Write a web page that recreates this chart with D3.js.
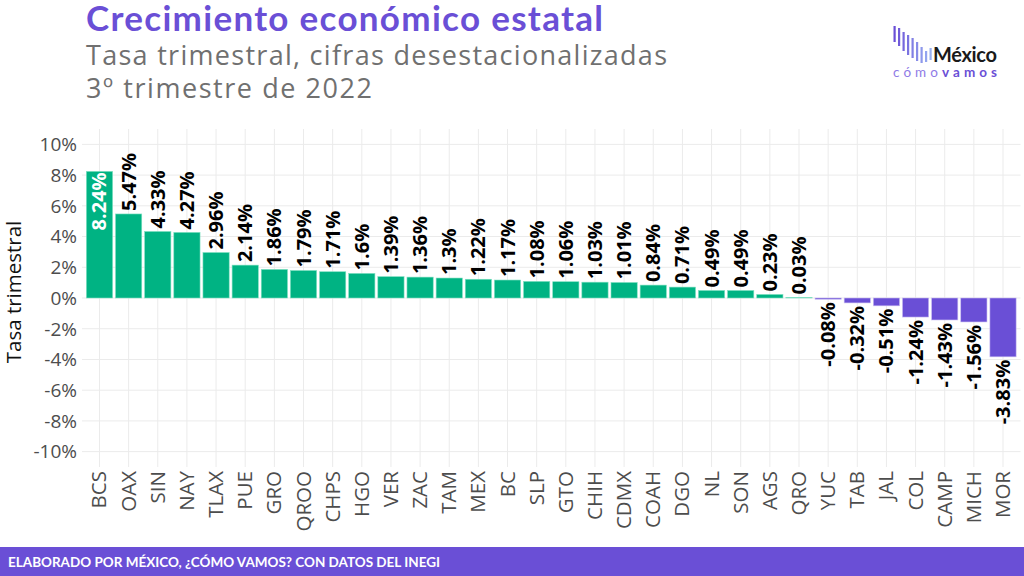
<!DOCTYPE html>
<html><head><meta charset="utf-8">
<script src="https://cdn.jsdelivr.net/npm/d3@7"></script>
<style>body{margin:0;background:#fff}svg{display:block}</style>
</head><body><svg id="c" width="1024" height="576"></svg>
<script>
const states = ["BCS","OAX","SIN","NAY","TLAX","PUE","GRO","QROO","CHPS","HGO","VER","ZAC","TAM","MEX","BC","SLP","GTO","CHIH","CDMX","COAH","DGO","NL","SON","AGS","QRO","YUC","TAB","JAL","COL","CAMP","MICH","MOR"];
const growth = [8.24,5.47,4.33,4.27,2.96,2.14,1.86,1.79,1.71,1.6,1.39,1.36,1.3,1.22,1.17,1.08,1.06,1.03,1.01,0.84,0.71,0.49,0.49,0.23,0.03,-0.08,-0.32,-0.51,-1.24,-1.43,-1.56,-3.83];
const labels = ["8.24%","5.47%","4.33%","4.27%","2.96%","2.14%","1.86%","1.79%","1.71%","1.6%","1.39%","1.36%","1.3%","1.22%","1.17%","1.08%","1.06%","1.03%","1.01%","0.84%","0.71%","0.49%","0.49%","0.23%","0.03%","-0.08%","-0.32%","-0.51%","-1.24%","-1.43%","-1.56%","-3.83%"];
const yTicks = [10,8,6,4,2,0,-2,-4,-6,-8,-10];

const svg = d3.select("#c");
const purple = "#6A4FD6", green = "#00B383";
const L = 82, R = 1020.5, T = 129, B = 467;

const n = states.length;
const step = (R - L) / (n + 0.2);
const xc = d => L + 0.6*step + states.indexOf(d)*step;
const y = d3.scaleLinear().domain([-11, 11]).range([B, T]);

// grid
const g = svg.append("g");
g.selectAll(".hg").data(yTicks).join("line")
  .attr("x1", L).attr("x2", R).attr("y1", d=>y(d)).attr("y2", d=>y(d))
  .attr("stroke", "#ebebeb").attr("stroke-width", 1);
g.selectAll(".vg").data(states).join("line")
  .attr("x1", d=>xc(d)).attr("x2", d=>xc(d)).attr("y1", T).attr("y2", B)
  .attr("stroke", "#ebebeb").attr("stroke-width", 1);

// y axis labels
svg.append("g").selectAll("text").data(yTicks).join("text")
  .attr("x", 77).attr("y", d=>y(d)).attr("dy", "0.36em")
  .attr("text-anchor", "end").attr("font-family", "Open Sans").attr("font-size", 19)
  .attr("fill", "#4d4d4d").text(d => d + "%");
svg.append("text").attr("transform", `translate(21,${y(0)-6}) rotate(-90)`)
  .attr("text-anchor", "middle").attr("font-family", "Open Sans").attr("font-size", 20.5)
  .attr("fill", "#111").text("Tasa trimestral");

// bars
const bw = step*0.9;
const data = states.map((s,i)=>({s, v: growth[i], lab: labels[i]}));
svg.append("g").selectAll("rect").data(data).join("rect")
  .attr("x", d=>xc(d.s)-bw/2).attr("width", bw)
  .attr("y", d=>y(Math.max(0,d.v))).attr("height", d=>Math.abs(y(d.v)-y(0)))
  .attr("fill", d=>d.v>=0?green:purple)
  .attr("stroke", d=>d.v>=0?"#7fe0c1":"#c9bdf2").attr("stroke-width", 0.6);

// value labels
svg.append("g").selectAll("text").data(data).join("text")
  .attr("transform", d=>{
    const cx = xc(d.s) + 7;
    let yy;
    if (d.v >= 8) { yy = y(d.v) + 1; }
    else if (d.v >= 0) { yy = y(d.v) - 3; }
    else { yy = y(d.v) + 3; }
    return `translate(${cx},${yy}) rotate(-90)`;
  })
  .attr("text-anchor", d => d.v >= 8 ? "end" : (d.v>=0 ? "start" : "end"))
  .attr("font-family", "Open Sans").attr("font-weight", "bold").attr("font-size", 20)
  .attr("fill", d => d.v >= 8 ? "#fff" : "#000").text(d=>d.lab);

// x labels
svg.append("g").selectAll("text").data(states).join("text")
  .attr("transform", d=>`translate(${xc(d)+7},471) rotate(-90)`)
  .attr("text-anchor", "end").attr("font-family", "Open Sans").attr("font-size", 20.5)
  .attr("fill", "#4d4d4d").text(d=>d);

// titles
svg.append("text").attr("x", 86).attr("y", 31).attr("font-family", "Lato, 'Noto Sans'")
  .attr("font-weight", "bold").attr("font-size", 35).attr("fill", purple)
  .attr("letter-spacing", 1.3).text("Crecimiento económico estatal");
svg.append("text").attr("x", 86).attr("y", 65).attr("font-family", "'Open Sans'")
  .attr("font-size", 27).attr("fill", "#707070")
  .attr("textLength", 581).attr("lengthAdjust", "spacing").text("Tasa trimestral, cifras desestacionalizadas");
svg.append("text").attr("x", 86).attr("y", 98).attr("font-family", "'Open Sans'")
  .attr("font-size", 27).attr("fill", "#707070")
  .attr("textLength", 286).attr("lengthAdjust", "spacing").text("3º trimestre de 2022");

// logo
const logo = svg.append("g");
const lb = [[893.5,26,42],[898,28,46],[902.5,32,51],[907,35,55],[911.5,38,58],[916,42,61],[920.5,47,63],[925,51,62],[929.5,48,60]];
logo.selectAll("rect").data(lb).join("rect")
  .attr("x", d=>d[0]).attr("y", d=>d[1]).attr("width", 2.2).attr("height", d=>d[2]-d[1])
  .attr("fill", (d,i)=>d3.interpolateRgb("#6A4FD6","#98b0f2")(i/8));
logo.append("text").attr("x", 933).attr("y", 62).attr("font-family", "Lato, 'Noto Sans'")
  .attr("font-weight", "bold").attr("font-size", 20).attr("fill", "#1a1a1a")
  .attr("textLength", 64).attr("lengthAdjust", "spacing").text("México");
const t2 = logo.append("text").attr("x", 893).attr("y", 77).attr("font-family", "Lato, 'Noto Sans'")
  .attr("font-size", 13.5).attr("textLength", 104).attr("lengthAdjust", "spacing");
t2.append("tspan").attr("fill", "#8f7be6").text("cómo");
t2.append("tspan").attr("fill", purple).attr("font-weight", "bold").text("vamos");

// footer
svg.append("rect").attr("x", 0).attr("y", 547).attr("width", 1024).attr("height", 29).attr("fill", purple);
svg.append("text").attr("x", 8).attr("y", 567).attr("font-family", "Lato, 'Noto Sans'")
  .attr("font-weight", "bold").attr("font-size", 13.5).attr("fill", "#fff")
  .attr("textLength", 432).attr("lengthAdjust", "spacing")
  .text("ELABORADO POR MÉXICO, ¿CÓMO VAMOS? CON DATOS DEL INEGI");
</script></body></html>
